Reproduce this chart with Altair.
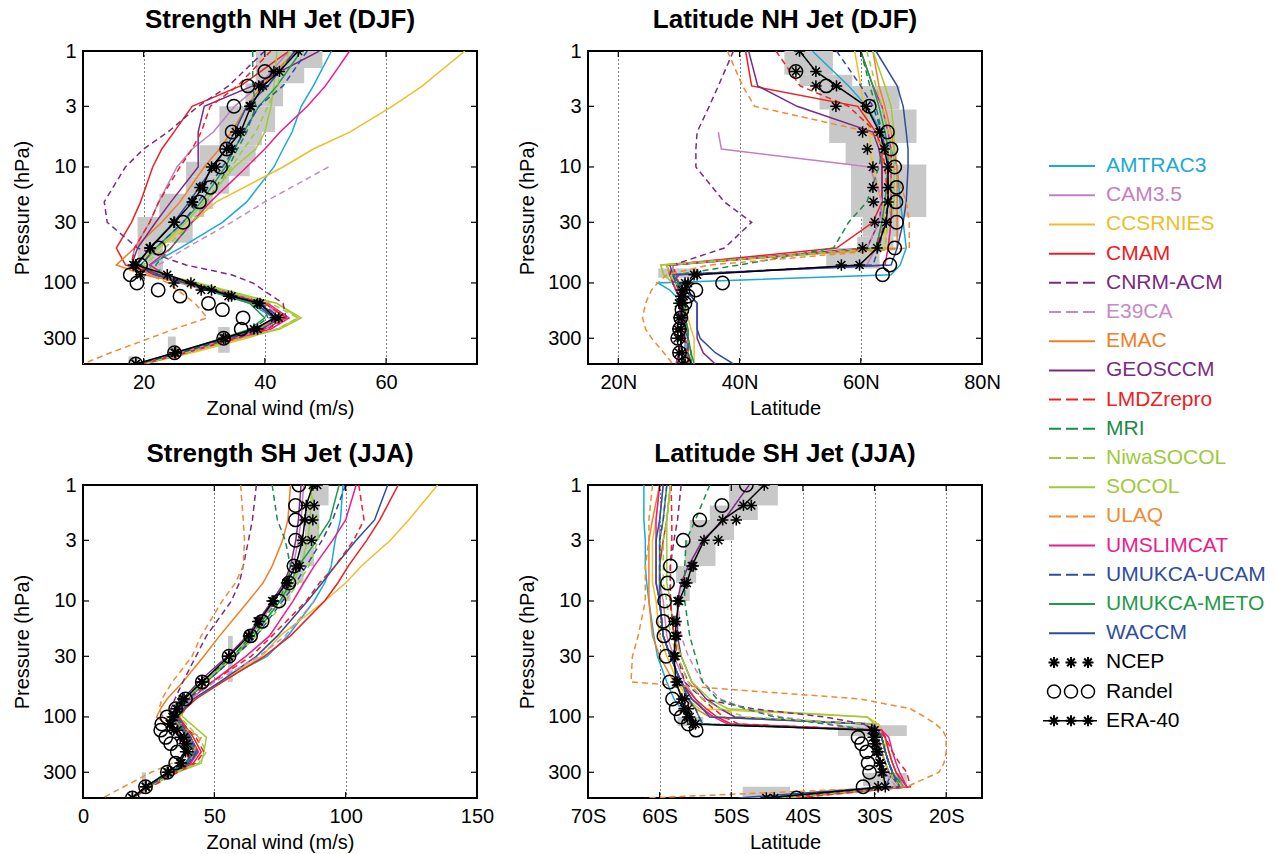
import altair as alt
import pandas as pd

N = None

MODELS = ["AMTRAC3", "CAM3.5", "CCSRNIES", "CMAM", "CNRM-ACM", "E39CA", "EMAC",
          "GEOSCCM", "LMDZrepro", "MRI", "NiwaSOCOL", "SOCOL", "ULAQ", "UMSLIMCAT",
          "UMUKCA-UCAM", "UMUKCA-METO", "WACCM"]
COLORS = ["#1BA9D6", "#C480BE", "#EEBE2A", "#ED2024", "#7B2B83", "#C88AC4", "#F07E26",
          "#7B2B83", "#ED2224", "#1C8B47", "#9CCB3B", "#9CCB3B", "#F18A35", "#EC1C8C",
          "#2E4DA0", "#1E9A4B", "#2E4DA0"]
DASHED = [False, False, False, False, True, True, False, False, True, True, True,
          False, True, False, True, False, False]

P_STR = [1, 2, 3, 5, 7, 10, 20, 30, 50, 70, 85, 100, 150, 200, 250, 300, 400, 500]
P_LAT = [1, 2, 3, 5, 7, 10, 20, 30, 50, 70, 85, 100, 115, 130, 150, 200, 250, 300, 400, 500]
P_OBS = [1, 1.5, 2, 3, 5, 7, 10, 15, 20, 30, 50, 70, 85, 100, 115, 130, 150, 170, 200, 250, 300, 400, 500]

# ---------------- Strength NH Jet (DJF) : zonal wind (m/s) on P_STR
NHS_AMTRAC3 = [51, 48, 46, 44.5, 43, 41.5, 37, 33, 26, 21, 21.5, 26.5, 37.5, 41.5, 38.5, 33.5, 25.5, 19]
NHS_CAM35 = [44, 39, 35, 31.5, 28, 25.5, 22.5, 21, 18.5, 18, 21, 26, 38, 42, 39, 34, 26, 19]
NHS_CCSRNIES = [73, 66, 61, 54, 48, 43, 32, 28, 22.5, 18, 22, 28, 42, 45.5, 42, 37, 28, 20]
NHS_CMAM = [44, 36, 28, 25, 23, 21.5, 19.5, 18, 15.5, 17, 22, 27.5, 40, 43.5, 40, 34.5, 26.5, 19.5]
NHS_CNRM = [40, 34, 29, 24, 20, 17, 13.5, 14, 19, 27, 34.5, 38, 43, 43.5, 40, 34.5, 26.5, 19.5]
NHS_E39CA = [N, N, N, N, N, 50.5, 40, 34.5, 27, 22.5, 23, 28, 40, 43, 40, 34.5, 26, 19]
NHS_EMAC = [45, 39.5, 37, 34.5, 32.5, 30, 26, 23, 18.5, 15.5, 20, 26.5, 38, 42, 39, 34.5, 26.5, 19.5]
NHS_GEOSCCM = [49, 38, 30, 29, 29, 29, 24.5, 22, 19, 18, 22, 27, 39, 42.5, 39.5, 34, 26, 19]
NHS_LMDZ = [41, 35.5, 31, 29.5, 28, 26, 22.5, 21, 18.5, 18, 22.5, 28, 40, 43.5, 40.5, 35, 27, 19.5]
NHS_MRI = [38, 38, 38.5, 37, 35.5, 34, 30.5, 28, 24.5, 22, 23, 28, 39.5, 40.5, 38, 34, 26, 19]
NHS_NIWA = [44, 42, 40.5, 38.5, 36.5, 34.5, 30.5, 28, 23.5, 20, 23, 28, 41, 45.5, 42, 36, 27, 20]
NHS_SOCOL = [42, 41.5, 41, 40, 38.5, 35, 30, 27, 22.5, 19.5, 23.5, 29, 42, 46, 42.5, 36, 27, 20]
NHS_ULAQ = [N, N, N, N, N, N, N, N, N, 19, 21, 24, 28.5, 30.5, 25, 21, 14.5, 10]
NHS_UMSLIMCAT = [54, 50, 47, 42.5, 40, 37, 31, 28, 24.5, 21, 23.5, 28, 40.5, 44, 41, 35.5, 27, 20]
NHS_UCAM = [47, 43, 39, 36.5, 35, 33, 29, 26.5, 22, 19.5, 22.5, 27.5, 39.5, 42.5, 39.5, 34, 26, 19]
NHS_METO = [46, 42, 39, 36.5, 35, 33.5, 29.5, 26.5, 22, 19.5, 22.5, 27, 37.5, 40, 37.5, 33, 25.5, 19]
NHS_WACCM = [45, 40.5, 37, 35, 33.5, 31.5, 27.5, 25, 21, 19, 22, 27, 38.5, 41.5, 38.5, 33.5, 26, 19]
NHS_ERA = [45.5, 42.4, 39.7, 37.7, 36.0, 33.7, 31.2, 29.7, 28.1, 25.1, 21.1, 18.7, 23.9, 27.8, 31.2, 34.5, 39.2, N, 41.7, 38.2, 33.2, 25.1, 18.7]
NHS_NCEP = [N, 41.5, 39.0, 37.5, 35.2, 34.5, 32.0, 29.3, 28.0, 25.0, 21.0, 18.3, 19.5, 25.0, 29.5, 34.0, 38.8, N, 42.3, 38.8, 33.5, 25.3, 18.7]
NHS_RANDEL = [N, 40.0, 37.2, 34.9, 34.6, 33.7, 32.7, 31.0, 29.2, 26.5, 22.5, 19.5, 17.8, 18.9, 22.4, 26.0, 30.7, 33.0, 36.4, 36.1, 33.2, 25.1, 18.7]
NHS_G_PTOP = [1, 1.4, 1.9, 3, 5, 6.5, 9, 12, 17, 23, 27, 45, 62, 240, 290, 430]
NHS_G_PBOT = [1.4, 1.9, 3, 5, 6.5, 9, 12, 17, 23, 27, 45, 62, 80, 400, 400, 500]
NHS_G_LO = [38.5, 38.5, 36.8, 32.5, 32.5, 29.2, 27, 27, 22.6, 22.6, 19, 19, 20.5, 32.3, 24, 17.5]
NHS_G_HI = [49.5, 46.5, 43, 41.7, 39.5, 38.5, 37.5, 34.1, 31.4, 30, 28.1, 23.2, 23.2, 34.2, 25.3, 19]

# ---------------- Latitude NH Jet (DJF) : degrees N on P_LAT
NHL_AMTRAC3 = [52, 58, 61, 63.5, 65, 66, 66.5, 67, 67.5, 66.5, 65, 26.5, 28.5, 29.5, 30, 30.5, 31, 31, 31, 32]
NHL_CAM35 = [N, N, N, 36.5, 37, 61.5, 63.5, 63.5, 62.5, 61, 30, 29, 29.5, 30, 30, 30.5, 31, 31, 31.5, 32]
NHL_CCSRNIES = [59, 60, 60.5, 61.5, 61.5, 62, 63.5, 64, 64, 27, 27.5, 29, 30, 30.5, 31, 31.5, 32, 32.5, 32.5, 32.5]
NHL_CMAM = [41, 42, 59.5, 62.5, 63.5, 63.5, 63.5, 62, 56, 28, 28.5, 29, 29.5, 30, 30, 30.5, 31, 31, 31.5, 31.5]
NHL_CNRM = [39, 36.5, 35, 33, 32.8, 32.8, 37.5, 42, 37.5, 29, 28.5, 29, 29.5, 30, 30, 30.5, 31, 31, 31.5, 32]
NHL_E39CA = [N, N, N, N, N, 62, 63.5, 63, 61, 29, 29, 29.5, 30, 30, 30.5, 30.5, 31, 31, 31.5, 32]
NHL_EMAC = [62, 63, 64, 65, 65.5, 66, 66, 66, 66, 28, 28.5, 29, 29.5, 30, 30.5, 31, 31, 31.5, 31.5, 32]
NHL_GEOSCCM = [41.5, 43, 49.5, 62, 63, 63.5, 63.5, 63, 61, 28.5, 29, 29.5, 31, 32, 33, 33, 33, 33, 34, 36]
NHL_LMDZ = [46, 50, 58, 62.5, 63.5, 64, 64.5, 64, 62.5, 29, 29.5, 30, 30, 30.5, 30.5, 31, 31, 31.5, 31.5, 32]
NHL_MRI = [60, 61.5, 62.5, 63.5, 63.5, 63, 61, 58, 55.5, 40, 29.5, 30, 30.5, 31, 31, 31, 31.5, 31.5, 32, 32]
NHL_NIWA = [61, 62.5, 63.5, 64.5, 65, 65, 65, 64.5, 64, 28, 28.5, 29.5, 30, 30, 30.5, 31, 31, 31.5, 31.5, 32]
NHL_SOCOL = [62, 64, 65, 65.5, 65.5, 65.5, 65.5, 65, 64.5, 27, 27.5, 29, 29.5, 30, 30.5, 31, 31, 31.5, 32, 32]
NHL_ULAQ = [38, 40.5, 42.5, 61.5, 64, 65.5, 67.5, 68, 68, 35, 28, 26.5, 25.5, 25, 24.5, 24, 24.5, 25.5, 27.5, 29]
NHL_UMSLIMCAT = [60, 62, 63.5, 64.5, 65, 65, 65, 65, 64.5, 64, 30, 29, 29.5, 30, 30, 30.5, 30.5, 30.5, 30, 29.5]
NHL_UCAM = [56, 60, 62, 63.5, 64, 64.5, 64.5, 64, 63, 62, 29, 29.5, 30, 30.5, 30.5, 31, 31, 31.5, 31.5, 32]
NHL_METO = [60, 62, 63, 64, 64.5, 64.5, 64, 63.5, 62.5, 29, 29, 29.5, 30, 30.5, 31, 31, 31.5, 31.5, 32, 32.5]
NHL_WACCM = [62.5, 66, 67, 67.5, 67.8, 67.8, 67.5, 67, 66, 65, 29, 30, 31, 32, 33, 33, 33, 33.5, 36, 39]
NHL_ERA = [49.9, 52.6, 56.0, 60.9, 63.1, 63.9, 64.5, 64.5, 64.5, 64.2, 62.7, 59.8, 33.0, 31.5, 31.0, 30.8, 30.6, N, 30.4, 30.3, 30.3, 30.5, 31.0]
NHL_NCEP = [N, 49.3, 52.6, 55.9, 60.3, 61.1, 62.0, 62.0, 62.1, 62.3, 60.3, 56.8, 32.5, 31.0, 30.5, 30.3, 30.0, N, 30.0, 29.8, 29.8, 30.0, 30.5]
NHL_RANDEL = [N, 49.3, 54.3, 61.4, 64.4, 65.0, 65.6, 65.9, 65.8, 65.9, 65.6, 64.8, 63.6, 37.2, 32.8, 31.5, 31.0, 30.5, 30.3, 30.1, 29.8, 30.1, 30.9]
NHL_G_PTOP = [1, 1.6, 2, 3.2, 6.2, 9.5, 27, 40, 50, 75]
NHL_G_PBOT = [1.6, 2, 3.2, 6.2, 9.5, 27, 40, 50, 75, 90]
NHL_G_LO = [47.4, 49.9, 53.2, 54.8, 57.5, 58.4, 60.3, 59.4, 54.3, 26.6]
NHL_G_HI = [55.4, 58.6, 66.4, 69.2, 66.0, 70.8, 66.4, 65.4, 63.1, 33.3]

# ---------------- Strength SH Jet (JJA) : zonal wind (m/s) on P_STR
SHS_AMTRAC3 = [99, 98, 96, 94.5, 92, 88, 78, 70, 52, 42, 38, 36, 40, 42, 39, 33.5, 25, 19]
SHS_CAM35 = [84, 83, 82, 80, 77, 73, 64, 57, 46, 39, 36, 34.5, 40, 42, 39, 33, 24, 19]
SHS_CCSRNIES = [135, 124, 117, 106, 100, 92, 75, 68, 52, 43, 39, 37, 41, 43, 40, 34, 25, 19]
SHS_CMAM = [120, 113, 108, 101, 97, 92, 79, 69, 53, 43, 39, 36.5, 42, 45, 42, 35, 25, 19]
SHS_CNRM = [66, 64.5, 63, 61, 59.5, 56.5, 47, 43, 38, 35, 33.5, 33, 40, 42, 39, 33, 24, 19]
SHS_E39CA = [N, N, N, N, N, 88, 77, 67, 50, 41, 37.5, 35.5, 41, 43, 40, 33.5, 24.5, 19]
SHS_EMAC = [79, 78, 76, 72, 68.5, 63, 52, 46, 38, 32, 29.5, 28, 38, 43, 40.5, 34, 24, 18]
SHS_GEOSCCM = [83, 82, 81, 79, 76.5, 72, 62.5, 55, 44, 38, 35, 33.5, 40, 42, 39, 33, 24, 19]
SHS_LMDZ = [105, 107, 103, 96, 90, 85, 72, 64, 49, 40, 37, 35.5, 43, 46, 43, 36, 26, 19]
SHS_MRI = [72, 74, 77, 79, 78, 74, 64, 57, 45, 38, 35, 34, 40, 42, 39, 33, 24, 19]
SHS_NIWA = [86, 89.5, 89.5, 86, 82, 77, 66, 58, 46, 39, 37, 37, 44, 47, 44, 35, 25, 19]
SHS_SOCOL = [87, 86.5, 85.5, 83, 80, 75, 65, 57, 46, 39, 37, 38, 47, 46, 45, 36, 25, 19]
SHS_ULAQ = [60, 61, 61.5, 61, 58, 53, 45, 41.5, 34, 30, 29, 30.5, 45, 42, 34, 26, 15.5, 7.5]
SHS_UMSLIMCAT = [104, 100, 95, 88, 84, 80, 71, 62, 49, 41, 37, 35, 41, 44, 41, 34, 24.5, 19]
SHS_UCAM = [100, 95, 91, 85, 81, 76, 66, 58, 47, 40, 37, 35.5, 41, 43, 40, 33.5, 24.5, 19]
SHS_METO = [97.5, 94, 89, 82, 79, 75, 65, 58, 47, 40, 37, 35, 40.5, 42.5, 39.5, 33.5, 24.5, 19]
SHS_WACCM = [116, 111, 104, 96, 91, 85.5, 74, 66, 52, 42, 38.5, 36, 41, 43.5, 40.5, 34, 24.5, 19]
SHS_ERA = [87.5, 85.0, 84.5, 83.5, 81.0, 77.5, 72.5, 67.0, 63.2, 55.6, 45.4, 38.5, 36.0, 34.5, 33.0, 34.5, 37.0, 38.5, 39.0, 37.0, 32.1, 23.8, 18.8]
SHS_NCEP = [89.2, 88.0, 87.5, 87.0, 82.5, 78.0, 72.0, 66.5, 63.0, 55.5, 45.2, 38.0, 35.5, 34.0, 33.5, 36.0, 38.5, 39.5, 40.0, 37.5, 32.5, 24.0, 18.8]
SHS_RANDEL = [82.2, 80.9, 80.9, 80.9, 80.3, 78.4, 74.6, 68.2, 63.8, 55.6, 45.4, 39.0, 35.3, 32.0, 30.0, 29.6, 31.5, 33.4, 35.9, 35.3, 32.1, 23.8, 18.8]
SHS_G_PTOP = [1, 1.5, 3, 5, 7, 20, 300]
SHS_G_PBOT = [1.5, 3, 5, 7, 10, 50, 400]
SHS_G_LO = [87, 84.5, 82.5, 80, 75.5, 55.2, 22.4]
SHS_G_HI = [93.5, 90, 88, 84, 79, 57, 24]

# ---------------- Latitude SH Jet (JJA) : degrees (negative = S) on P_LAT
SHL_AMTRAC3 = [-62.2, -62.2, -62, -62, -61.8, -61.5, -60.8, -60.3, -59, -58, -57, -56, -55, -29, -28.5, -28, -27.5, -27, -26, -44]
SHL_CAM35 = [-59.5, -60, -60, -60, -60, -59.5, -59, -58, -56.5, -55, -54, -52.5, -29.5, -29, -29, -28.5, -28, -27.5, -26.5, -45]
SHL_CCSRNIES = [-60, -60.5, -61, -61, -61, -60.5, -60, -59, -57.5, -56, -54.5, -31, -29.5, -29, -28.5, -28.5, -28, -27.5, -26.5, -43]
SHL_CMAM = [-58.5, -59, -59.5, -60, -60, -60, -59.5, -58.5, -57, -55, -53.5, -52, -50, -29, -28.5, -28, -27.5, -27, -25.5, -42]
SHL_CNRM = [-57, -57.5, -58, -58.5, -58.5, -58.5, -58, -57.5, -56.5, -54, -47, -37, -31.5, -30, -29.5, -29, -28.5, -28, -26.5, -45]
SHL_E39CA = [N, N, N, N, N, -57.5, -57, -56, -54, -51.5, -48, -43, -36, -31, -30, -29.5, -29, -28.5, -27, -46]
SHL_EMAC = [-60, -61, -61.5, -61.5, -61.5, -61.5, -61, -60, -58, -56.5, -55, -53, -30, -29.5, -29, -28.5, -28, -27.5, -26, -42]
SHL_GEOSCCM = [-47.5, -51, -54, -56, -57, -57.5, -57.5, -57, -55.5, -53.5, -51.5, -49.5, -31.5, -30, -29.5, -29, -28.5, -28, -26.5, -44]
SHL_LMDZ = [-58.4, -58.3, -58.3, -58.5, -58.5, -58.5, -58, -57.5, -56, -54, -52.5, -51, -49, -29.5, -28.5, -27.5, -26.5, -25.5, -25, -41]
SHL_MRI = [-53, -55, -56.3, -56.5, -56.5, -56.5, -55.8, -55, -54, -52, -48, -44, -37, -30.5, -29, -28.5, -28, -27.5, -26, -44]
SHL_NIWA = [-58.5, -59, -59.5, -59.5, -59.5, -59, -58.5, -57.5, -56, -54, -51.5, -48, -30.5, -30, -29.5, -29, -28.5, -28, -26.5, -43]
SHL_SOCOL = [-58.5, -59, -59, -59, -59, -58.5, -58, -57, -55.5, -53, -50.5, -31, -30, -29.5, -29, -28.5, -28, -27.5, -26.5, -43]
SHL_ULAQ = [-61, -61.5, -61.5, -62, -62, -62, -63, -63.8, -64, -32, -25, -23, -21.5, -20.5, -20, -20, -20.3, -21, -25.5, -62]
SHL_UMSLIMCAT = [-60, -60.5, -60.5, -60.5, -60.5, -60, -59.5, -58.5, -57, -55.5, -54, -52.5, -50.5, -29, -28, -27.5, -27, -26.5, -25.5, -44]
SHL_UCAM = [-59, -59.5, -60, -60, -60, -60, -59.5, -58.5, -57, -56, -55, -54.5, -54, -30, -29, -28.5, -28, -27.5, -26.5, -46]
SHL_METO = [-59, -59.5, -60, -60, -60, -60, -59.5, -58.5, -57, -56, -55, -54.5, -54, -30, -29, -28.5, -28, -27.5, -26.5, -46]
SHL_WACCM = [-59.5, -60, -60.5, -60.5, -60.5, -60, -59.5, -58.5, -57, -55.5, -54, -53, -30.5, -29.5, -29, -28.5, -28, -27.5, -28.5, -49]
SHL_ERA = [-45.4, -48.3, -51.2, -53.8, -55.5, -56.2, -57.3, -57.7, -57.8, -58.0, -57.7, -56.9, -56.6, -56.1, -55.4, -30.4, -29.9, -29.8, -29.7, -29.2, -28.8, -28.5, -45.1]
SHL_NCEP = [N, -47.2, -49.3, -51.8, -55.3, -56.5, -57.5, -58.0, -57.6, -57.8, -57.5, -56.5, -56.0, -55.8, -55.0, -30.0, -30.2, -30.0, -29.5, -29.3, -29.0, -29.5, -44.0]
SHL_RANDEL = [-47.9, -51.3, -54.4, -56.7, -58.5, -58.9, -59.3, -59.5, -59.4, -59.1, -58.6, -58.2, -57.7, -57.0, -56.0, -54.9, -32.3, -31.8, -31.1, -30.9, -30.7, -31.6, -40.9]
SHL_G_PTOP = [1, 1.5, 2, 3, 5, 7, 100, 118, 305, 400]
SHL_G_PBOT = [1.5, 2, 3, 5, 7, 10, 120, 146, 394, 500]
SHL_G_LO = [-50.3, -53, -55.8, -56.5, -57.7, -57.2, -57.5, -35.1, -31.6, -48.4]
SHL_G_HI = [-43.5, -46.3, -49.6, -52.2, -54.9, -55.8, -53.9, -25.5, -25.5, -41.8]

Y_TICKS = [1, 3, 10, 30, 100, 300]
STAR = "M0,-1L0,1M-1,0L1,0M-0.7,-0.7L0.7,0.7M-0.7,0.7L0.7,-0.7"
FONT = "Liberation Sans"
W, H = 394, 313


def model_frame(lists, levels):
    rows = []
    for name, color, dashed, vals in zip(MODELS, COLORS, DASHED, lists):
        for p, v in zip(levels, vals):
            if v is not None:
                rows.append({"model": name, "p": p, "x": v, "color": color, "dashed": dashed})
    return pd.DataFrame(rows)


def obs_frame(vals):
    rows = [{"p": p, "x": v} for p, v in zip(P_OBS, vals) if v is not None]
    return pd.DataFrame(rows)


def panel(lists, levels, era, ncep, randel, grey, xdom, xvals, xlabel, xtitle):
    axis_x = dict(values=xvals, title=xtitle, grid=True, gridDash=[1, 3], gridColor="#000000",
                  gridWidth=1, ticks=False, domain=False, labelPadding=8, titlePadding=6,
                  labelFlush=False, labelOverlap=False)
    if xlabel:
        axis_x["labelExpr"] = xlabel
    xs = alt.Scale(domain=xdom, nice=False, zero=False)
    ys = alt.Scale(type="log", domain=[1, 500], reverse=True, nice=False)
    ax_x = alt.Axis(**axis_x)
    ax_y = alt.Axis(values=Y_TICKS, title="Pressure (hPa)", grid=False, ticks=False, domain=False,
                    labelPadding=7, titlePadding=10, format="d", labelOverlap=False)
    X = lambda f: alt.X(f, scale=xs, axis=ax_x)
    Y = lambda f: alt.Y(f, scale=ys, axis=ax_y)

    mdf = model_frame(lists, levels)
    gdf = pd.DataFrame({"p1": grey[0], "p2": grey[1], "lo": grey[2], "hi": grey[3]})

    layers = [
        alt.Chart(gdf).mark_rect(color="#c8c8c8", clip=True).encode(
            x=X("lo:Q"), x2="hi:Q", y=Y("p1:Q"), y2="p2:Q"),
        alt.Chart(mdf[~mdf["dashed"]]).mark_line(strokeWidth=1.5, clip=True).encode(
            x=X("x:Q"), y=Y("p:Q"), color=alt.Color("color:N", scale=None),
            detail="model:N", order="p:Q"),
        alt.Chart(mdf[mdf["dashed"]]).mark_line(strokeWidth=1.5, strokeDash=[6, 4], clip=True).encode(
            x=X("x:Q"), y=Y("p:Q"), color=alt.Color("color:N", scale=None),
            detail="model:N", order="p:Q"),
        alt.Chart(obs_frame(era)).mark_line(color="black", strokeWidth=1.5, clip=True).encode(
            x=X("x:Q"), y=Y("p:Q"), order="p:Q"),
        alt.Chart(obs_frame(era)).mark_point(shape=STAR, size=130, filled=False, color="black",
                                             strokeWidth=1.5, opacity=1, clip=True).encode(
            x=X("x:Q"), y=Y("p:Q")),
        alt.Chart(obs_frame(ncep)).mark_point(shape=STAR, size=130, filled=False, color="black",
                                              strokeWidth=1.5, opacity=1, clip=True).encode(
            x=X("x:Q"), y=Y("p:Q")),
        alt.Chart(obs_frame(randel)).mark_point(shape="circle", size=180, filled=False, color="black",
                                                strokeWidth=1.5, opacity=1, clip=True).encode(
            x=X("x:Q"), y=Y("p:Q")),
    ]
    ytk = pd.DataFrame({"p": Y_TICKS[1:]})
    xtk = pd.DataFrame({"x": [v for v in xvals if xdom[0] < v < xdom[1]]})
    layers += [
        alt.Chart(ytk).mark_rule(color="black", strokeWidth=1.2).encode(
            y=Y("p:Q"), x=alt.value(0), x2=alt.value(6)),
        alt.Chart(ytk).mark_rule(color="black", strokeWidth=1.2).encode(
            y=Y("p:Q"), x=alt.value(W - 6), x2=alt.value(W)),
        alt.Chart(xtk).mark_rule(color="black", strokeWidth=1.2).encode(
            x=X("x:Q"), y=alt.value(H - 6), y2=alt.value(H)),
        alt.Chart(xtk).mark_rule(color="black", strokeWidth=1.2).encode(
            x=X("x:Q"), y=alt.value(0), y2=alt.value(6)),
    ]
    return alt.layer(*layers)


def finish(chart, title):
    return chart.properties(
        width=W, height=H,
        title=alt.TitleParams(title, offset=8, frame="group"),
        view=alt.ViewBackground(stroke="black", strokeWidth=2),
    )


# ---------------- legend (drawn beside the top-right panel, own y scale of row indices)
LEG_NAMES = MODELS + ["NCEP", "Randel", "ERA-40"]
LEG_COLORS = COLORS + ["#000000", "#000000", "#000000"]
leg = pd.DataFrame({"name": LEG_NAMES, "idx": list(range(len(LEG_NAMES))), "color": LEG_COLORS,
                    "dashed": DASHED + [False, False, False]})
nm = len(MODELS)
LY = alt.Y("idx:Q", scale=alt.Scale(domain=[-3.94, 6.78], reverse=True, nice=False, zero=False), axis=None)
LC = alt.Color("color:N", scale=None)
lmod = leg.iloc[:nm]
LX0 = W + 67
legend_layers = [
    alt.Chart(lmod[~lmod["dashed"]]).mark_rule(strokeWidth=2).encode(
        y=LY, x=alt.value(LX0), x2=alt.value(LX0 + 46), color=LC),
    alt.Chart(lmod[lmod["dashed"]]).mark_rule(strokeWidth=2, strokeDash=[12, 5]).encode(
        y=LY, x=alt.value(LX0), x2=alt.value(LX0 + 46), color=LC),
    alt.Chart(leg).mark_text(align="left", baseline="middle", fontSize=21, font=FONT).encode(
        y=LY, x=alt.value(LX0 + 57), text="name:N", color=LC),
    alt.Chart(leg[leg["name"] == "ERA-40"]).mark_rule(strokeWidth=1.5, color="black").encode(
        y=LY, x=alt.value(LX0 - 6), x2=alt.value(LX0 + 48)),
]
for sx in (5, 22, 39):
    legend_layers.append(
        alt.Chart(leg[leg["name"].isin(["NCEP", "ERA-40"])]).mark_point(
            shape=STAR, size=120, filled=False, color="black", strokeWidth=2, opacity=1).encode(
            y=LY, x=alt.value(LX0 + sx)))
    legend_layers.append(
        alt.Chart(leg[leg["name"] == "Randel"]).mark_point(
            shape="circle", size=170, filled=False, color="black", strokeWidth=1.5, opacity=1).encode(
            y=LY, x=alt.value(LX0 + sx)))
legend = alt.layer(*legend_layers)

p1 = finish(panel(
    [NHS_AMTRAC3, NHS_CAM35, NHS_CCSRNIES, NHS_CMAM, NHS_CNRM, NHS_E39CA, NHS_EMAC,
     NHS_GEOSCCM, NHS_LMDZ, NHS_MRI, NHS_NIWA, NHS_SOCOL, NHS_ULAQ, NHS_UMSLIMCAT,
     NHS_UCAM, NHS_METO, NHS_WACCM], P_STR, NHS_ERA, NHS_NCEP, NHS_RANDEL,
    (NHS_G_PTOP, NHS_G_PBOT, NHS_G_LO, NHS_G_HI), [10, 75], [20, 40, 60], None,
    "Zonal wind (m/s)"), "Strength NH Jet (DJF)")
p2_core = panel(
    [NHL_AMTRAC3, NHL_CAM35, NHL_CCSRNIES, NHL_CMAM, NHL_CNRM, NHL_E39CA, NHL_EMAC,
     NHL_GEOSCCM, NHL_LMDZ, NHL_MRI, NHL_NIWA, NHL_SOCOL, NHL_ULAQ, NHL_UMSLIMCAT,
     NHL_UCAM, NHL_METO, NHL_WACCM], P_LAT, NHL_ERA, NHL_NCEP, NHL_RANDEL,
    (NHL_G_PTOP, NHL_G_PBOT, NHL_G_LO, NHL_G_HI), [15, 80], [20, 40, 60, 80],
    "datum.value + 'N'", "Latitude")
p2 = finish(alt.layer(p2_core, legend).resolve_scale(y="independent"), "Latitude NH Jet (DJF)")
p3 = finish(panel(
    [SHS_AMTRAC3, SHS_CAM35, SHS_CCSRNIES, SHS_CMAM, SHS_CNRM, SHS_E39CA, SHS_EMAC,
     SHS_GEOSCCM, SHS_LMDZ, SHS_MRI, SHS_NIWA, SHS_SOCOL, SHS_ULAQ, SHS_UMSLIMCAT,
     SHS_UCAM, SHS_METO, SHS_WACCM], P_STR, SHS_ERA, SHS_NCEP, SHS_RANDEL,
    (SHS_G_PTOP, SHS_G_PBOT, SHS_G_LO, SHS_G_HI), [0, 150], [0, 50, 100, 150], None,
    "Zonal wind (m/s)"), "Strength SH Jet (JJA)")
p4 = finish(panel(
    [SHL_AMTRAC3, SHL_CAM35, SHL_CCSRNIES, SHL_CMAM, SHL_CNRM, SHL_E39CA, SHL_EMAC,
     SHL_GEOSCCM, SHL_LMDZ, SHL_MRI, SHL_NIWA, SHL_SOCOL, SHL_ULAQ, SHL_UMSLIMCAT,
     SHL_UCAM, SHL_METO, SHL_WACCM], P_LAT, SHL_ERA, SHL_NCEP, SHL_RANDEL,
    (SHL_G_PTOP, SHL_G_PBOT, SHL_G_LO, SHL_G_HI), [-70, -15], [-70, -60, -50, -40, -30, -20],
    "(-datum.value) + 'S'", "Latitude"), "Latitude SH Jet (JJA)")

chart = alt.concat(p1, p2, p3, p4, columns=2, bounds="flush",
                   spacing={"row": 121, "column": 111}).properties(
    padding={"left": 11, "top": 6, "right": 2, "bottom": 2}
).configure(font=FONT).configure_view(strokeWidth=0).configure_axis(
    labelFontSize=20, titleFontSize=20, labelColor="black", titleColor="black",
    titleFontWeight="normal", labelFont=FONT, titleFont=FONT
).configure_title(fontSize=26, font=FONT, fontWeight="bold", color="black")

chart.save("out.html", embed_options={"renderer": "svg", "actions": False})
